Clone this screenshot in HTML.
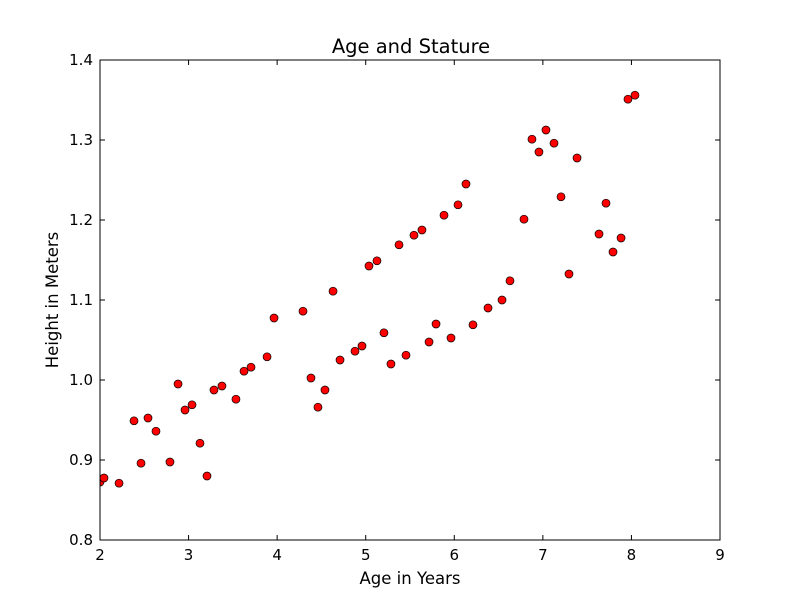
<!DOCTYPE html>
<html><head><meta charset="utf-8"><style>body{margin:0;background:#fff}svg{display:block;font-family:"DejaVu Sans","Liberation Sans",sans-serif}</style></head>
<body>
<svg id="chart" width="800" height="600">
<defs><clipPath id="clip"><rect x="100" y="60" width="620" height="480"/></clipPath></defs>
<rect x="0" y="0" width="800" height="600" fill="#fff"/>
<g id="points" clip-path="url(#clip)"></g>
<rect x="100" y="60" width="620" height="480" fill="none" stroke="#000" stroke-width="1"/>
<g id="axes"></g>
<text x="411" y="53" text-anchor="middle" font-size="19.5">Age and Stature</text>
<text x="410" y="584" text-anchor="middle" font-size="16.5">Age in Years</text>
<text x="58" y="300" text-anchor="middle" font-size="16.5" transform="rotate(-90 58 300)">Height in Meters</text>
</svg>
<script>
const ages=[2.0,2.045,2.215,2.384,2.463,2.542,2.632,2.79,2.881,2.96,3.039,3.129,3.208,3.287,3.377,3.535,3.626,3.705,3.886,3.965,4.292,4.382,4.461,4.54,4.631,4.71,4.879,4.958,5.037,5.127,5.206,5.285,5.376,5.455,5.545,5.635,5.715,5.794,5.884,5.963,6.042,6.132,6.211,6.381,6.539,6.629,6.787,6.877,6.956,7.035,7.126,7.205,7.295,7.386,7.634,7.713,7.792,7.883,7.961,8.04];
const heights=[0.8725,0.8775,0.871,0.949,0.896,0.9525,0.936,0.8975,0.995,0.9625,0.969,0.921,0.88,0.9875,0.9925,0.976,1.011,1.016,1.029,1.0775,1.086,1.0025,0.966,0.9875,1.111,1.025,1.036,1.0425,1.1425,1.149,1.059,1.02,1.169,1.031,1.181,1.1875,1.0475,1.07,1.206,1.0525,1.219,1.245,1.069,1.09,1.1,1.124,1.201,1.301,1.285,1.3125,1.296,1.229,1.1325,1.2775,1.1825,1.221,1.16,1.1775,1.351,1.356];
const xTicks=[2,3,4,5,6,7,8,9];
const yTicks=[0.8,0.9,1.0,1.1,1.2,1.3,1.4];
const yTickLabels=["0.8","0.9","1.0","1.1","1.2","1.3","1.4"];
const NS="http://www.w3.org/2000/svg";
const xs=v=>100+(v-2)/7*620;
const ys=v=>540-(v-0.8)/0.6*480;
const pts=document.getElementById('points');
ages.forEach((a,i)=>{
 const c=document.createElementNS(NS,'circle');
 c.setAttribute('cx',xs(a));c.setAttribute('cy',ys(heights[i]));c.setAttribute('r',4);
 c.setAttribute('fill','#ff0000');c.setAttribute('stroke','#000');c.setAttribute('stroke-width','0.7');
 
 
 pts.appendChild(c);
});
const ax=document.getElementById('axes');
function line(x1,y1,x2,y2){const l=document.createElementNS(NS,'line');l.setAttribute('x1',x1);l.setAttribute('y1',y1);l.setAttribute('x2',x2);l.setAttribute('y2',y2);l.setAttribute('stroke','#000');


ax.appendChild(l);}
function text(x,y,s,anchor,name){const t=document.createElementNS(NS,'text');t.setAttribute('x',x);t.setAttribute('y',y);t.setAttribute('text-anchor',anchor);t.setAttribute('font-size','15');t.textContent=s;


ax.appendChild(t);}
xTicks.forEach(v=>{const x=xs(v);line(x,540,x,535);line(x,60,x,65);text(x,560,String(v),'middle','x-tick-label');});
yTicks.forEach((v,i)=>{const y=ys(v);line(100,y,105,y);line(720,y,715,y);text(93,y+5,yTickLabels[i],'end','y-tick-label');});
</script>
</body></html>
